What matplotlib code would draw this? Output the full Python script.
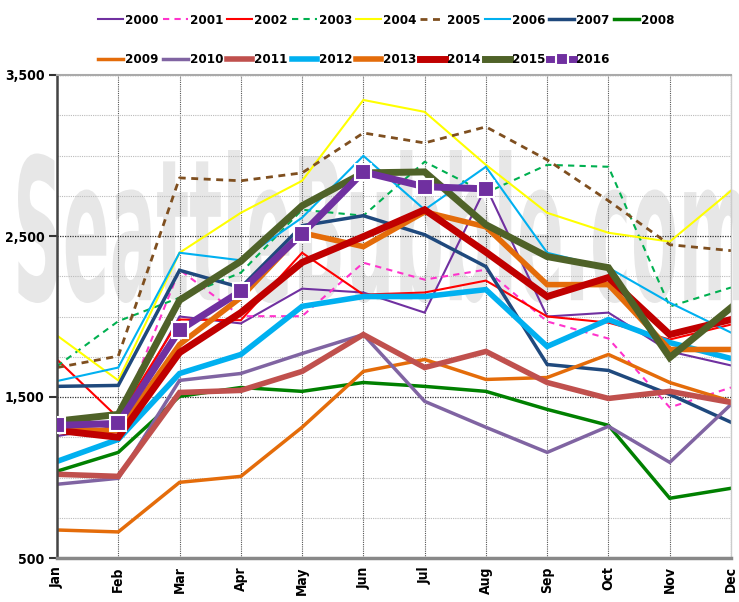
import matplotlib
matplotlib.use("Agg")
import matplotlib.pyplot as plt
from matplotlib.textpath import TextPath
from matplotlib.patches import PathPatch
from matplotlib.font_manager import FontProperties
from matplotlib.transforms import Affine2D
from matplotlib.ticker import MultipleLocator, FixedLocator, FuncFormatter

MONTHS = ['Jan', 'Feb', 'Mar', 'Apr', 'May', 'Jun', 'Jul', 'Aug', 'Sep', 'Oct', 'Nov', 'Dec']
Y_TICKS = [500, 1500, 2500, 3500]

# monthly values per year
y2000 = [1257, 1320, 2000, 1957, 2173, 2149, 2024, 2806, 2000, 2024, 1783, 1696]
y2001 = [1300, 1340, 2291, 2002, 2002, 2334, 2229, 2291, 1969, 1863, 1435, 1559]
y2002 = [1733, 1370, 1981, 1977, 2396, 2136, 2149, 2223, 2000, 1962, 1857, 1950]
y2003 = [1691, 1971, 2117, 2272, 2663, 2626, 2961, 2768, 2942, 2930, 2062, 2180]
y2004 = [1882, 1603, 2396, 2644, 2843, 3345, 3271, 2942, 2644, 2520, 2465, 2781]
y2005 = [1683, 1754, 2861, 2843, 2892, 3140, 3078, 3178, 2973, 2719, 2446, 2409]
y2006 = [1599, 1683, 2396, 2349, 2614, 2998, 2663, 2930, 2396, 2303, 2086, 1900]
y2007 = [1566, 1572, 2287, 2180, 2564, 2626, 2508, 2310, 1702, 1665, 1516, 1343]
y2008 = [1039, 1156, 1504, 1559, 1535, 1590, 1566, 1535, 1423, 1324, 871, 933]
y2009 = [674, 662, 970, 1007, 1312, 1659, 1733, 1609, 1621, 1764, 1590, 1473]
y2010 = [958, 995, 1603, 1646, 1770, 1888, 1473, 1312, 1156, 1318, 1094, 1454]
y2011 = [1020, 1007, 1528, 1541, 1659, 1888, 1683, 1783, 1590, 1491, 1535, 1466]
y2012 = [1100, 1237, 1646, 1764, 2063, 2124, 2124, 2167, 1814, 1981, 1838, 1739]
y2013 = [1300, 1290, 1826, 2118, 2520, 2434, 2650, 2557, 2198, 2198, 1795, 1795]
y2014 = [1293, 1250, 1776, 2024, 2336, 2496, 2663, 2400, 2124, 2242, 1888, 1981]
y2015 = [1350, 1392, 2101, 2343, 2688, 2892, 2898, 2570, 2372, 2303, 1745, 2055]
y2016 = [1324, 1336, 1915, 2157, 2514, 2898, 2806, 2793]

series = [
    ('2000', y2000, '#7030A0', 1.5, '-'),
    ('2001', y2001, '#FF33CC', 1.5, (0, (3, 2.5))),
    ('2002', y2002, '#FF0000', 1.5, '-'),
    ('2003', y2003, '#00B050', 1.5, (0, (3, 2.5))),
    ('2004', y2004, '#FFFF00', 1.5, '-'),
    ('2005', y2005, '#7F4F1F', 2.0, (0, (2.5, 2))),
    ('2006', y2006, '#00B0F0', 1.5, '-'),
    ('2007', y2007, '#1F497D', 2.5, '-'),
    ('2008', y2008, '#008000', 2.5, '-'),
    ('2009', y2009, '#E46C0A', 2.5, '-'),
    ('2010', y2010, '#8064A2', 2.5, '-'),
    ('2011', y2011, '#C0504D', 4.0, '-'),
    ('2012', y2012, '#00B0F0', 4.0, '-'),
    ('2013', y2013, '#E46C0A', 4.0, '-'),
    ('2014', y2014, '#C00000', 5.0, '-'),
    ('2015', y2015, '#4F6228', 5.0, '-'),
]

def cfont(size):
    return FontProperties(family='DejaVu Sans', stretch='condensed', weight='bold', size=size)

fig = plt.figure(figsize=(7.39, 6.02), dpi=100)
ax = fig.add_axes([57 / 739, 44 / 602, 674 / 739, 483 / 602])

# watermark
tp = TextPath((0, 0), "SeattleBubble.com", size=100, prop=cfont(100))
bb = tp.get_extents()
fx0, fx1 = 18 / 739, 745 / 739
fy0, fy1 = 1 - 303 / 602, 1 - 150 / 602
tr = (Affine2D().translate(-bb.x0, -bb.y0)
      .scale((fx1 - fx0) / bb.width, (fy1 - fy0) / bb.height)
      .translate(fx0, fy0) + fig.transFigure)
wm = PathPatch(tp, transform=tr, facecolor='#e7e7e7', edgecolor='none', zorder=0.2)
wm.set_clip_on(False)
ax.add_artist(wm)

handles = []
for name, vals, col, lw, ls in series:
    h, = ax.plot(range(len(vals)), vals, color=col, lw=lw, ls=ls, label=name,
                 solid_joinstyle='miter', zorder=2)
    handles.append(h)
h, = ax.plot(range(len(y2016)), y2016, color='#7030A0', lw=5, label='2016',
             marker='s', markersize=11, markerfacecolor='#7030A0',
             markeredgecolor='white', markeredgewidth=1.5, zorder=3)
handles.append(h)

ax.set_xlim(0, 11)
ax.set_ylim(500, 3500)
ax.set_xticks(range(12))
ax.set_xticklabels(MONTHS, rotation=90, fontproperties=cfont(10))
ax.yaxis.set_major_locator(FixedLocator(Y_TICKS))
ax.yaxis.set_minor_locator(MultipleLocator(250))
ax.yaxis.set_major_formatter(FuncFormatter(lambda v, p: f'{int(v):,}'))
for lab in ax.get_yticklabels():
    lab.set_fontproperties(cfont(10))

ax.set_axisbelow(True)
ax.grid(axis='x', color='#555555', ls=(0, (1, 1)), lw=0.8)
ax.grid(axis='y', which='major', color='#333333', ls=(0, (1, 1)), lw=0.9)
ax.grid(axis='y', which='minor', color='#bbbbbb', ls=(0, (1, 1)), lw=0.8)
ax.tick_params(axis='y', which='major', length=6, width=1.5, color='#333333', pad=3)
ax.tick_params(axis='y', which='minor', length=0)
ax.tick_params(axis='x', length=0, pad=6)

ax.spines['left'].set_color('#444444')
ax.spines['left'].set_linewidth(1.8)
ax.spines['bottom'].set_color('#888888')
ax.spines['bottom'].set_linewidth(2.5)
ax.spines['top'].set_color('#aaaaaa')
ax.spines['top'].set_linewidth(1.5)
ax.spines['right'].set_color('#cccccc')
ax.spines['right'].set_linewidth(1.0)

# legend: 9 columns, 2 rows, filled row by row
order = []
for i in range(8):
    order += [handles[i], handles[9 + i]]
order.append(handles[8])
fig.legend(order, [o.get_label() for o in order], ncol=9, loc='upper left',
           bbox_to_anchor=(98 / 739, 1 - 14 / 602), frameon=False,
           prop=cfont(9.5), markerscale=0.8,
           handlelength=1.9, handletextpad=0.15, columnspacing=0.3,
           labelspacing=2.0, borderpad=0, borderaxespad=0)

fig.savefig('out.png', dpi=100)
